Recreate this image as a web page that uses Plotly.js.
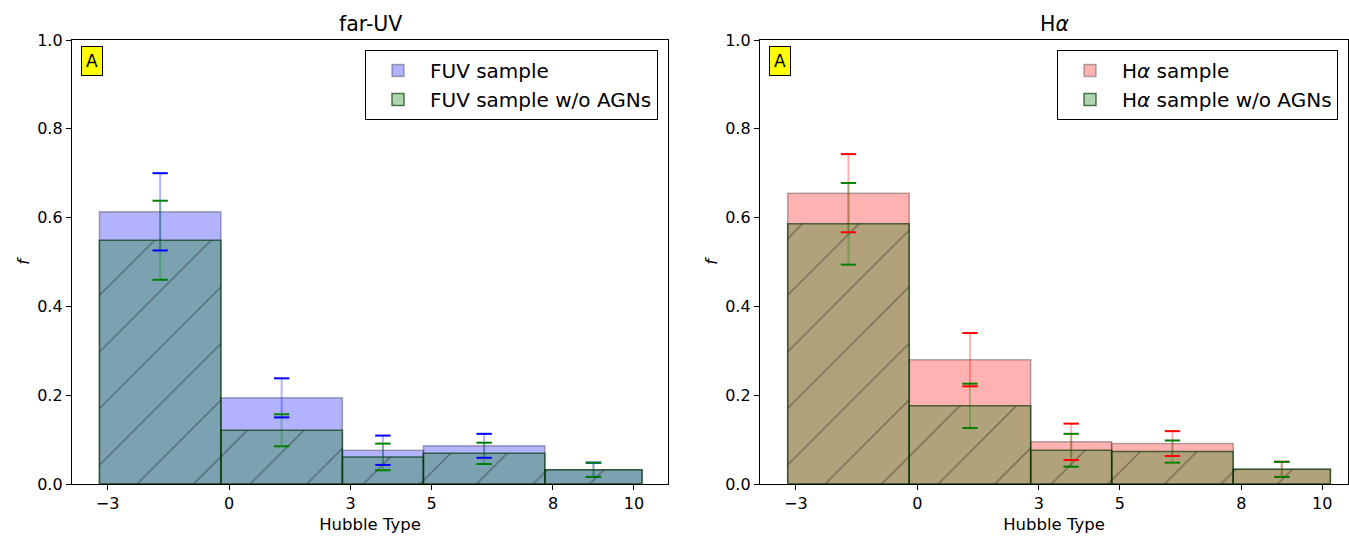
<!DOCTYPE html>
<html>
<head>
<meta charset="utf-8">
<script src="https://cdn.plot.ly/plotly-3.0.1.min.js"></script>
<style>
  html, body { margin: 0; padding: 0; background: #fff; }
  #chart { width: 1349px; height: 536px; }
</style>
</head>
<body>
<div id="chart"></div>
<script>
// Hubble-type bin edges and the labelled types on the x axis
const binEdges = [-3.2, -0.2, 2.8, 4.8, 7.8, 10.2];
const typeTicks = [-3, 0, 3, 5, 8, 10];

// Far-UV selected galaxies: fraction per Hubble-type bin and its uncertainty
const fuvAll = [0.613, 0.194, 0.076, 0.086, 0.032];
const fuvAllErr = [0.087, 0.044, 0.033, 0.027, 0.016];
const fuvNoAgn = [0.549, 0.121, 0.061, 0.069, 0.032];
const fuvNoAgnErr = [0.089, 0.036, 0.030, 0.024, 0.016];

// H-alpha selected galaxies
const haAll = [0.655, 0.280, 0.095, 0.091, 0.033];
const haAllErr = [0.088, 0.060, 0.041, 0.028, 0.017];
const haNoAgn = [0.586, 0.176, 0.076, 0.073, 0.033];
const haNoAgnErr = [0.092, 0.050, 0.037, 0.025, 0.017];

const binCenters = binEdges.slice(0, -1).map((e, i) => (e + binEdges[i + 1]) / 2);
const binWidths = binEdges.slice(0, -1).map((e, i) => binEdges[i + 1] - e);

const FONT = 'DejaVu Sans, Liberation Sans, sans-serif';

function histBar(y, err, name, fill, edge, errColor, xa, ya, leg, hatched) {
  const marker = { color: fill, line: { color: edge, width: 1.5 } };
  if (hatched) {
    marker.pattern = {
      shape: '/', size: 40, solidity: 0.035,
      fgcolor: 'rgba(0,0,0,0.36)', bgcolor: fill, fillmode: 'replace'
    };
  }
  return {
    type: 'bar', name: name, x: binCenters, y: y, width: binWidths,
    xaxis: xa, yaxis: ya, legend: leg, marker: marker,
    error_y: { type: 'data', array: err, visible: true, color: errColor, thickness: 2, width: 0 },
    hoverinfo: 'y'
  };
}

// Cap markers at both ends of each error bar
function errCaps(y, err, color, xa, ya) {
  const xs = [], ys = [];
  y.forEach((v, i) => {
    xs.push(binCenters[i], binCenters[i]);
    ys.push(v + err[i], v - err[i]);
  });
  return {
    type: 'scatter', mode: 'markers', x: xs, y: ys, xaxis: xa, yaxis: ya,
    showlegend: false, hoverinfo: 'skip',
    marker: { symbol: 'line-ew', size: 11, color: color, line: { color: color, width: 2 } }
  };
}

const data = [
  histBar(fuvAll, fuvAllErr, 'FUV sample', 'rgba(0,0,255,0.3)', 'rgba(0,0,0,0.3)', 'rgba(0,0,255,0.3)', 'x', 'y', 'legend', false),
  histBar(fuvNoAgn, fuvNoAgnErr, 'FUV sample w/o AGNs', 'rgba(0,128,0,0.3)', 'rgba(0,50,0,0.65)', 'rgba(0,128,0,0.3)', 'x', 'y', 'legend', true),
  errCaps(fuvAll, fuvAllErr, 'blue', 'x', 'y'),
  errCaps(fuvNoAgn, fuvNoAgnErr, 'green', 'x', 'y'),
  histBar(haAll, haAllErr, 'H<i>α</i> sample', 'rgba(255,0,0,0.3)', 'rgba(0,0,0,0.3)', 'rgba(255,0,0,0.3)', 'x2', 'y2', 'legend2', false),
  histBar(haNoAgn, haNoAgnErr, 'H<i>α</i> sample w/o AGNs', 'rgba(0,128,0,0.3)', 'rgba(0,50,0,0.65)', 'rgba(0,128,0,0.3)', 'x2', 'y2', 'legend2', true),
  errCaps(haAll, haAllErr, 'red', 'x2', 'y2'),
  errCaps(haNoAgn, haNoAgnErr, 'green', 'x2', 'y2')
];

const W = 1349;
function xAxis(domain, range, anchor) {
  return {
    domain: domain, range: range, anchor: anchor,
    tickvals: typeTicks, ticks: 'outside', ticklen: 5, tickwidth: 1, tickcolor: '#000',
    showline: true, linecolor: '#000', linewidth: 1.2, mirror: true,
    showgrid: false, zeroline: false,
    tickfont: { family: FONT, size: 16, color: '#000' },
    title: { text: 'Hubble Type', font: { family: FONT, size: 16.5, color: '#000' }, standoff: 6 }
  };
}
function yAxis(anchor) {
  return {
    domain: [0, 1], range: [0, 1], anchor: anchor,
    tickvals: [0, 0.2, 0.4, 0.6, 0.8, 1.0], tickformat: '.1f',
    ticks: 'outside', ticklen: 5, tickwidth: 1, tickcolor: '#000',
    showline: true, linecolor: '#000', linewidth: 1.2, mirror: true,
    showgrid: false, zeroline: false,
    tickfont: { family: FONT, size: 16, color: '#000' },
    title: { text: '<i>f</i>', font: { family: FONT, size: 16, color: '#000' }, standoff: 3 }
  };
}

const legendStyle = (xRight) => ({
  x: xRight, xanchor: 'right', y: 0.9775, yanchor: 'top',
  bgcolor: '#fff', bordercolor: '#000', borderwidth: 1,
  font: { family: FONT, size: 20, color: '#000' },
  itemwidth: 54, tracegroupgap: 0
});

const layout = {
  width: W, height: 536,
  margin: { l: 0, r: 0, t: 40, b: 52, autoexpand: false },
  paper_bgcolor: '#fff', plot_bgcolor: '#fff',
  barmode: 'overlay', bargap: 0,
  showlegend: true,
  xaxis: xAxis([72 / W, 668 / W], [-3.877, 10.84], 'y'),
  yaxis: yAxis('x'),
  xaxis2: xAxis([760 / W, 1348 / W], [-3.884, 10.635], 'y2'),
  yaxis2: yAxis('x2'),
  legend: legendStyle(658 / W),
  legend2: legendStyle(1338 / W),
  annotations: [
    { text: 'far-UV', xref: 'x domain', yref: 'paper', x: 0.5, y: 1, yanchor: 'bottom', yshift: 2,
      showarrow: false, font: { family: FONT, size: 20.5, color: '#000' } },
    { text: 'H<i>α</i>', xref: 'x2 domain', yref: 'paper', x: 0.5, y: 1, yanchor: 'bottom', yshift: 2,
      showarrow: false, font: { family: FONT, size: 20.5, color: '#000' } },
    { text: 'A', xref: 'x domain', yref: 'y domain', x: 0.0145, y: 0.986, xanchor: 'left', yanchor: 'top',
      showarrow: false, bgcolor: 'yellow', bordercolor: '#000', borderwidth: 1, borderpad: 4,
      font: { family: FONT, size: 17, color: '#000' } },
    { text: 'A', xref: 'x2 domain', yref: 'y2 domain', x: 0.0145, y: 0.986, xanchor: 'left', yanchor: 'top',
      showarrow: false, bgcolor: 'yellow', bordercolor: '#000', borderwidth: 1, borderpad: 4,
      font: { family: FONT, size: 17, color: '#000' } }
  ]
};

Plotly.newPlot('chart', data, layout, { staticPlot: true, displayModeBar: false });
</script>
</body>
</html>
